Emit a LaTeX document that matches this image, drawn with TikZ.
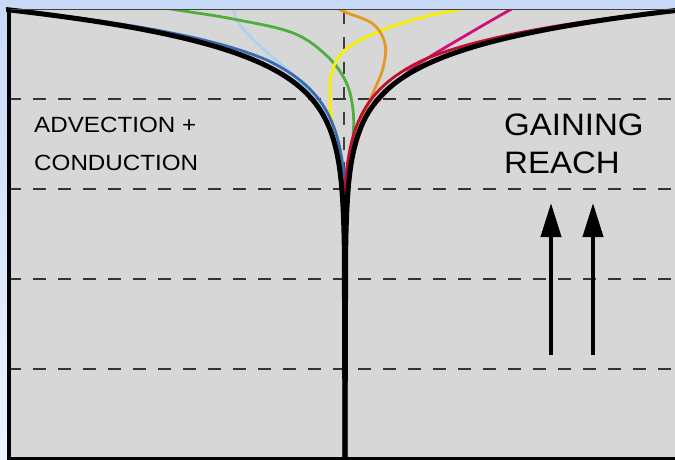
\documentclass[tikz,border=0pt]{standalone}
\usepackage{fontspec}
\setmainfont{Liberation Sans}
\usetikzlibrary{arrows.meta}
\definecolor{bgtop}{RGB}{198,218,248}
\definecolor{bgbot}{RGB}{238,243,255}
\definecolor{panel}{RGB}{215,215,215}
\definecolor{cblue}{RGB}{58,106,178}
\definecolor{clight}{RGB}{168,212,240}
\definecolor{cgreen}{RGB}{80,174,62}
\definecolor{cyellow}{RGB}{248,240,0}
\definecolor{corange}{RGB}{226,154,36}
\definecolor{cmagenta}{RGB}{204,18,120}
\definecolor{cred}{RGB}{192,16,46}
\tikzset{
  dashline/.style={line width=1.1pt, draw=black!80, dash pattern=on 12.7pt off 12.3pt},
  vdashline/.style={line width=1.1pt, draw=black!75, dash pattern=on 12.5pt off 12.5pt},
  profile/.style={line width=2.8pt, line cap=round, line join=round},
  blackcurve/.style={line width=5pt, draw=black, line join=round},
  uparrow/.style={line width=4pt, draw=black, -{Triangle[length=34pt,width=20pt]}},
  lbl/.style={anchor=base west, inner sep=0pt, text=black}
}
\begin{document}
\begin{tikzpicture}[x=1pt,y=-1pt,
  declare function={ramp(\t)=min(1,(\t-10)/50); inner(\t)=335*exp(-0.026*(\t-10+4.5*ramp(\t)))-3*ramp(\t);}]
\useasboundingbox (0,0) rectangle (675,460);
\shade[top color=bgtop,bottom color=bgbot] (0,0) rectangle (675,460);
\fill[panel] (8,10) rectangle (676,461);
% dashed grid
\draw[dashline] (8.3,99) -- (676,99);
\draw[dashline] (8.3,189) -- (676,189);
\draw[dashline] (8.3,279) -- (676,279);
\draw[dashline] (8.3,369) -- (676,369);
\draw[vdashline] (344,12) -- (344,215);
% coloured profiles
\begin{scope}
\clip (8,10) rectangle (676,461);
\draw[profile, clight] plot[smooth, tension=0.6] coordinates {(232,4) (234,12) (239,24) (260,46) (292,74) (312,96) (327,118) (337,150) (342,180) (345,203)};
\draw[profile, cgreen] plot[smooth, tension=0.6] coordinates {(150,6) (177,10) (233,19) (293,33) (327,56) (346,82) (353,110) (353,140) (349,175) (345,203)};
\draw[profile, cyellow] plot[smooth, tension=0.6] coordinates {(480,6) (457,10) (420,18) (380,31) (345,50) (332,72) (330,100) (334,140) (340,175) (345,203)};
\draw[profile, corange] plot[smooth, tension=0.6] coordinates {(334,6) (345,12) (373,24) (385,44) (383,68) (373,93) (363,117) (352,155) (346,185) (345,203)};
\draw[profile, cmagenta] plot[smooth, tension=0.6] coordinates {(520,5) (508,11) (463,37) (420,63) (398,81) (380,99) (367,116) (356,145) (349,175) (345,203)};
\draw[profile, cblue] plot[domain=12:186, samples=140] ({345-inner(\x)},\x) -- (345,203);
\draw[profile, cred] plot[domain=12:186, samples=140] ({345+inner(\x)},\x) -- (345,203);
\end{scope}
% main black profile
\begin{scope}
\clip (6,8) rectangle (676,462);
\draw[blackcurve] plot[domain=5:250, samples=160] ({345-335*exp(-0.026*(\x-10))},\x) -- (345,462);
\draw[blackcurve] plot[domain=5:250, samples=160] ({345+335*exp(-0.026*(\x-10))},\x) -- (345,462);
\end{scope}
% frame
\draw[line width=1.5pt, draw=black!75] (8,9.5) -- (676,9.5);
\draw[line width=4pt, draw=black] (8.7,8) -- (8.7,458.5) -- (676,458.5);
% labels
\node[lbl, font=\fontsize{22}{26}\selectfont] (adv) at (34,132) {\scalebox{1.1}[1]{ADVECTION +}};
\node[lbl, font=\fontsize{22}{26}\selectfont] (cond) at (34,170) {\scalebox{1.1}[1]{CONDUCTION}};
\node[lbl, font=\fontsize{31}{36}\selectfont] (gain) at (504,135) {\scalebox{1.065}[1]{GAINING}};
\node[lbl, font=\fontsize{31}{36}\selectfont] (reach) at (504,173) {\scalebox{1.065}[1]{REACH}};
% arrows
\coordinate (a1s) at (551,355);
\coordinate (a1e) at (551,203);
\coordinate (a2s) at (593,355);
\coordinate (a2e) at (593,203);
\draw[uparrow] (a1s) -- (a1e);
\draw[uparrow] (a2s) -- (a2e);
\end{tikzpicture}
\end{document}
